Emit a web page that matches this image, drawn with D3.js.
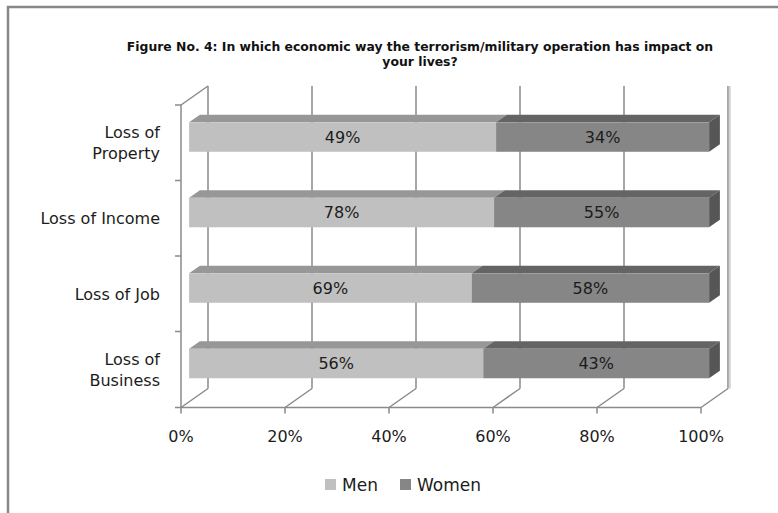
<!DOCTYPE html>
<html>
<head>
<meta charset="utf-8">
<script src="https://cdn.jsdelivr.net/npm/d3@7"></script>
<style>
  html, body { margin: 0; padding: 0; background: #fff; }
  svg { display: block; }
</style>
</head>
<body>
<svg id="chart" width="778" height="513"></svg>
<script>
// ---- data ----
const categories = ["Loss of Property", "Loss of Income", "Loss of Job", "Loss of Business"];
const categoryLines = [["Loss of", "Property"], ["Loss of Income"], ["Loss of Job"], ["Loss of", "Business"]];
const seriesNames = ["Men", "Women"];
const menValues = [49, 78, 69, 56];
const womenValues = [34, 55, 58, 43];
const xTicks = [0, 0.2, 0.4, 0.6, 0.8, 1.0];
const titleLines = ["Figure No. 4: In which economic way the terrorism/military operation has impact on", "your lives?"];

// ---- styles ----
const colors = {
  Men: { front: "#c0c0c0", top: "#979797", side: "#8a8a8a" },
  Women: { front: "#868686", top: "#646464", side: "#565656" }
};
const gridColor = "#8a8a8a";
const textColor = "#1c1c1c";
const FONT = "DejaVu Sans";

const svg = d3.select("#chart");

// outer border
svg.append("rect").attr("x", 8).attr("y", 7).attr("width", 820).attr("height", 600)
  .attr("fill", "none").attr("stroke", "#878787").attr("stroke-width", 2.5);

// title
const title = svg.append("text").attr("text-anchor", "middle")
  .attr("font-family", "DejaVu Sans").attr("font-weight", "bold").attr("font-size", 12.4)
  .attr("fill", "#111");
titleLines.forEach((t, i) => title.append("tspan").attr("x", 420).attr("y", 51 + i * 15).text(t));

// scales (front plane)
const x = d3.scaleLinear().domain([0, 1]).range([181, 701]);
const y = d3.scaleBand().domain(categories).range([105, 407]).paddingInner(0.61).paddingOuter(0.305);
const yCat = d3.scaleBand().domain(categories).range([105, 407]);
const DX = 27, DY = -19;         // full wall depth
const f0 = 0.3, f1 = 0.7;        // bar depth position
const bdx = DX * (f1 - f0), bdy = DY * (f1 - f0);
const ox = DX * f0, oy = DY * f0;
const floorY = 407.5, topY = 105;

const grid = svg.append("g").attr("stroke", gridColor).attr("stroke-width", 1.5).attr("fill", "none");
// back wall gridlines
grid.selectAll("line.g").data(xTicks).join("line")
  .attr("x1", d => x(d) + DX).attr("x2", d => x(d) + DX)
  .attr("y1", topY + DY).attr("y2", floorY + DY);
// floor diagonals
grid.selectAll("line.f").data(xTicks).join("line")
  .attr("x1", d => x(d)).attr("y1", floorY)
  .attr("x2", d => x(d) + DX).attr("y2", floorY + DY);
// left wall top diagonal
grid.append("line").attr("x1", x(0)).attr("y1", topY).attr("x2", x(0) + DX).attr("y2", topY + DY);
// right wall edge shading
svg.append("line").attr("x1", x(1) + DX + 1.8).attr("x2", x(1) + DX + 1.8)
  .attr("y1", topY + DY).attr("y2", floorY + DY).attr("stroke", "#d4d4d4").attr("stroke-width", 2);

// front axes
const ax = svg.append("g").attr("stroke", gridColor).attr("stroke-width", 1.5);
ax.append("line").attr("x1", x(0)).attr("x2", x(0)).attr("y1", topY).attr("y2", floorY);
ax.append("line").attr("x1", x(0) - 6).attr("x2", x(1)).attr("y1", floorY).attr("y2", floorY);
ax.selectAll("line.yt").data(categories).join("line")
  .attr("x1", x(0) - 6).attr("x2", x(0))
  .attr("y1", d => yCat(d)).attr("y2", d => yCat(d));
ax.selectAll("line.xt").data(xTicks).join("line")
  .attr("x1", d => x(d)).attr("x2", d => x(d))
  .attr("y1", floorY).attr("y2", floorY + 6);

// stacked (100%) data
const rows = categories.map((c, i) => {
  const tot = menValues[i] + womenValues[i];
  const s = menValues[i] / tot;
  return [
    { cat: c, series: "Men", x0: 0, x1: s, label: menValues[i] + "%" },
    { cat: c, series: "Women", x0: s, x1: 1, label: womenValues[i] + "%" }
  ];
});

const bars = svg.append("g");
rows.forEach(segs => {
  segs.forEach((d, j) => {
    const X0 = x(d.x0) + ox, X1 = x(d.x1) + ox;
    const Yt = y(d.cat) + oy, Yb = Yt + y.bandwidth();
    const col = colors[d.series];
    bars.append("polygon")
      .attr("points", [[X0, Yt], [X1, Yt], [X1 + bdx, Yt + bdy], [X0 + bdx, Yt + bdy]].map(p => p.join(",")).join(" "))
      .attr("fill", col.top);
    if (j === segs.length - 1) {
      bars.append("polygon")
        .attr("points", [[X1, Yt], [X1 + bdx, Yt + bdy], [X1 + bdx, Yb + bdy], [X1, Yb]].map(p => p.join(",")).join(" "))
        .attr("fill", col.side);
    }
    bars.append("rect").attr("x", X0).attr("y", Yt).attr("width", X1 - X0).attr("height", Yb - Yt)
      .attr("fill", col.front);
    bars.append("text").attr("x", (X0 + X1) / 2).attr("y", (Yt + Yb) / 2 + 5.8)
      .attr("text-anchor", "middle").attr("font-family", FONT).attr("font-size", 16)
      .attr("fill", textColor).text(d.label);
  });
});

// category labels
const catG = svg.append("g").attr("font-family", FONT).attr("font-size", 16).attr("fill", textColor)
  .attr("text-anchor", "end");
categories.forEach((c, i) => {
  const lines = categoryLines[i];
  const cy = yCat(c) + yCat.bandwidth() / 2;
  const t = catG.append("text");
  lines.forEach((ln, k) => {
    t.append("tspan").attr("x", 160)
      .attr("y", cy + 5.8 + (k - (lines.length - 1) / 2) * 21).text(ln);
  });
});

// x tick labels
svg.append("g").selectAll("text").data(xTicks).join("text")
  .attr("x", d => x(d)).attr("y", 442).attr("text-anchor", "middle")
  .attr("font-family", FONT).attr("font-size", 16).attr("fill", textColor)
  .text(d => d3.format(".0%")(d));

// legend
const legendX = [325, 400];
const lg = svg.append("g");
seriesNames.forEach((s, i) => {
  lg.append("rect").attr("x", legendX[i]).attr("y", 479).attr("width", 11).attr("height", 11)
    .attr("fill", colors[s].front);
  lg.append("text").attr("x", legendX[i] + 17).attr("y", 491)
    .attr("font-family", FONT).attr("font-size", 17).attr("fill", textColor).text(s);
});
</script>
</body>
</html>
